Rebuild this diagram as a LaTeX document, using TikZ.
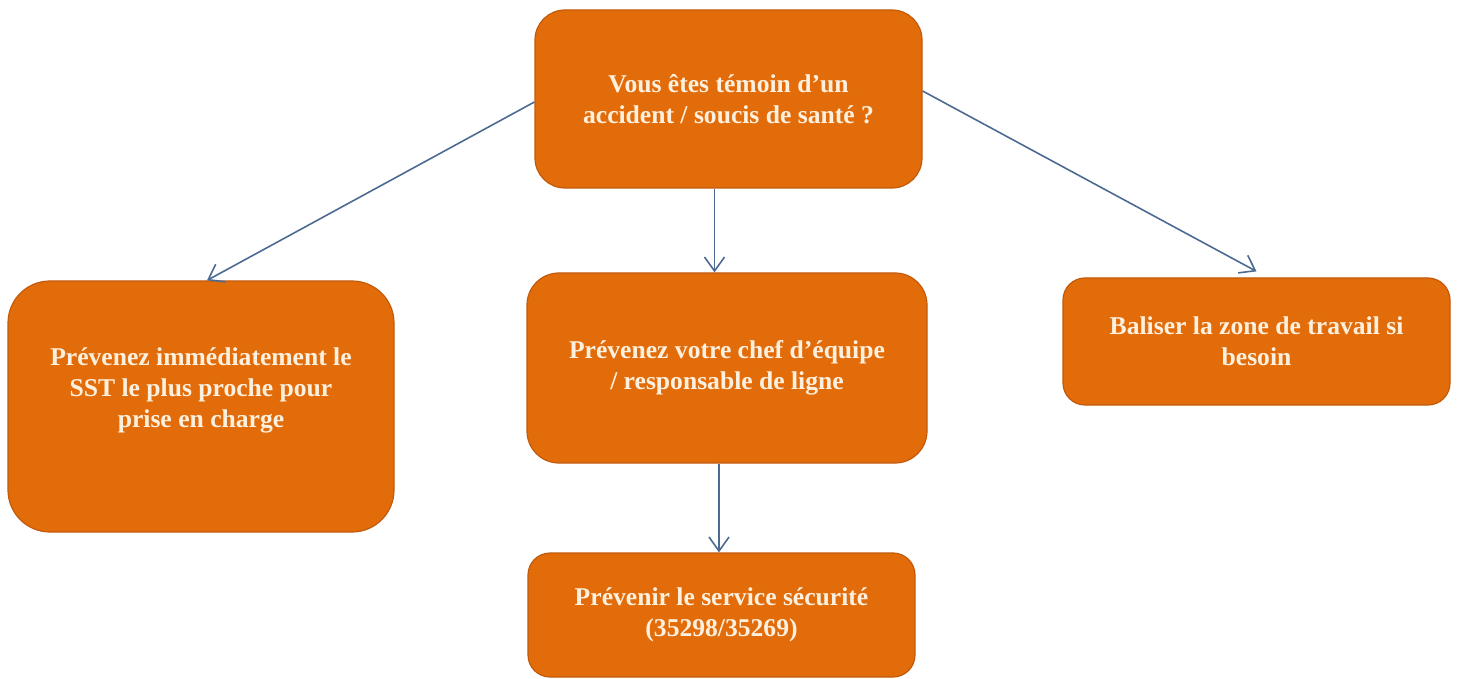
\documentclass[tikz,border=0pt]{standalone}
\usepackage{fontspec}
\setmainfont{Liberation Serif}
\usetikzlibrary{arrows.meta}
\definecolor{boxfill}{HTML}{E36C0A}
\definecolor{boxline}{HTML}{C25A0C}
\definecolor{boxtext}{HTML}{FDF0DE}
\definecolor{arrowcol}{HTML}{4D6A92}
\begin{document}
\begin{tikzpicture}[x=0.5pt,y=-0.5pt,
  boxfont/.style={font=\bfseries\fontsize{12.8}{15.5}\selectfont, text=boxtext, align=center},
  stepbox/.style={draw=boxline, line width=0.6pt, fill=boxfill, boxfont, inner sep=0pt},
  arr/.style={draw=arrowcol, line width=0.8pt, -{Straight Barb[length=7pt,width=10pt]}}]
\useasboundingbox (0,0) rectangle (1457,679);
\node[stepbox, minimum width=193.5pt, minimum height=89pt, rounded corners=15pt] (top) at (728.5,99) {Vous êtes témoin d’un\\accident / soucis de santé ?};
\node[stepbox, minimum width=193pt, minimum height=125.5pt, rounded corners=21pt,
  label={[boxfont, yshift=8pt]center:Prévenez immédiatement le\\SST le plus proche pour\\prise en charge}] (left) at (201,406.5) {};
\node[stepbox, minimum width=200pt, minimum height=95pt, rounded corners=16pt] (mid) at (727,368) {Prévenez votre chef d’équipe\\/ responsable de ligne};
\node[stepbox, minimum width=193.5pt, minimum height=63.5pt, rounded corners=11pt] (right) at (1256.5,341.5) {Baliser la zone de travail si\\besoin};
\node[stepbox, minimum width=193.5pt, minimum height=62pt, rounded corners=11pt] (bot) at (721.5,615) {Prévenir le service sécurité\\(35298/35269)};
\draw[arr] ([yshift=-1.5pt]top.west) -- ([xshift=3pt]left.north);
\draw[arr] ([xshift=-7pt]top.south) -- ([xshift=-7pt]top.south |- mid.north);
\draw[arr] ([yshift=4pt]top.east) -- ([yshift=3pt]right.north);
\draw[arr] ([xshift=-4pt]mid.south) -- ([xshift=-4pt]mid.south |- bot.north);
\end{tikzpicture}
\end{document}
